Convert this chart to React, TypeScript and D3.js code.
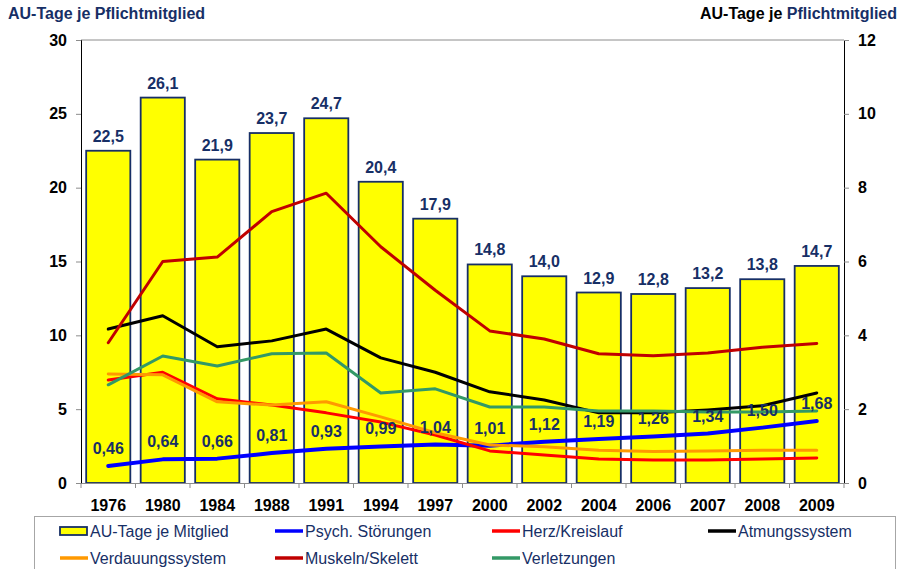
import React, { useEffect, useRef } from "react";
import * as d3 from "d3";

const years = ["1976", "1980", "1984", "1988", "1991", "1994", "1997", "2000", "2002", "2004", "2006", "2007", "2008", "2009"];
const auTage = [22.5, 26.1, 21.9, 23.7, 24.7, 20.4, 17.9, 14.8, 14.0, 12.9, 12.8, 13.2, 13.8, 14.7];
const psych = [0.46, 0.64, 0.66, 0.81, 0.93, 0.99, 1.04, 1.01, 1.12, 1.19, 1.26, 1.34, 1.5, 1.68];
const herz = [2.79, 3.0, 2.28, 2.11, 1.9, 1.65, 1.3, 0.87, 0.76, 0.65, 0.62, 0.62, 0.65, 0.68];
const atmung = [4.17, 4.53, 3.69, 3.85, 4.17, 3.39, 3.0, 2.47, 2.25, 1.9, 1.9, 1.98, 2.09, 2.44];
const verdauung = [2.95, 2.93, 2.2, 2.11, 2.2, 1.79, 1.36, 1.03, 0.98, 0.89, 0.85, 0.87, 0.89, 0.89];
const muskeln = [3.8, 6.0, 6.12, 7.35, 7.85, 6.4, 5.22, 4.12, 3.9, 3.5, 3.45, 3.52, 3.68, 3.78];
const verletzungen = [2.66, 3.44, 3.17, 3.5, 3.52, 2.44, 2.55, 2.06, 2.06, 1.95, 1.95, 1.92, 1.92, 1.95];

const leftTicks = [0, 5, 10, 15, 20, 25, 30];
const rightTicks = [0, 2, 4, 6, 8, 10, 12];

const NAVY = "#172f66";
const FONT = "'Liberation Sans', Arial, sans-serif";

const lineSeries = [
  { name: "Psych. Störungen", values: psych, color: "#0000ff", width: 4 },
  { name: "Herz/Kreislauf", values: herz, color: "#ff0000", width: 3 },
  { name: "Atmungssystem", values: atmung, color: "#000000", width: 3 },
  { name: "Verdauungssystem", values: verdauung, color: "#ff9900", width: 3 },
  { name: "Muskeln/Skelett", values: muskeln, color: "#c00000", width: 3 },
  { name: "Verletzungen", values: verletzungen, color: "#339966", width: 3 },
];

const fmt = (v: number, d: number) => v.toFixed(d).replace(".", ",");

const App = () => {
  const ref = useRef<SVGSVGElement | null>(null);

  useEffect(() => {
    const svg = d3.select(ref.current);
    svg.selectAll("*").remove();

    const left = 81, right = 844, top = 40, bottom = 483;

    const x = d3.scaleBand().domain(years).range([left, right]).paddingInner(0.19).paddingOuter(0.095);
    const xc = (i: number) => (x(years[i]) as number) + x.bandwidth() / 2;
    const yL = d3.scaleLinear().domain([0, 30]).range([bottom, top]);
    const yR = d3.scaleLinear().domain([0, 12]).range([bottom, top]);

    // titles
    svg.append("text").attr("x", 8).attr("y", 19).attr("font-family", FONT)
      .attr("font-size", 16).attr("font-weight", "bold").attr("fill", NAVY)
      .text("AU-Tage je Pflichtmitglied");
    const rt = svg.append("text").attr("x", 897).attr("y", 19).attr("text-anchor", "end")
      .attr("font-family", FONT).attr("font-size", 16).attr("font-weight", "bold");
    rt.append("tspan").attr("fill", "#000").text("AU-Tage je ");
    rt.append("tspan").attr("fill", NAVY).text("Pflichtmitglied");

    // frame top line
    svg.append("line").attr("x1", left).attr("x2", right).attr("y1", top).attr("y2", top)
      .attr("stroke", "#8c8c8c").attr("stroke-width", 1);

    // bars
    svg.selectAll(".bar").data(auTage).enter().append("rect")
      .attr("x", (d, i) => x(years[i]) as number)
      .attr("y", (d) => yL(d))
      .attr("width", x.bandwidth())
      .attr("height", (d) => bottom - yL(d))
      .attr("fill", "#ffff00").attr("stroke", NAVY).attr("stroke-width", 1.8);

    svg.selectAll(".barlabel").data(auTage).enter().append("text")
      .attr("x", (d, i) => xc(i)).attr("y", (d) => yL(d) - 9)
      .attr("text-anchor", "middle").attr("font-family", FONT).attr("font-size", 16)
      .attr("font-weight", "bold").attr("fill", NAVY)
      .text((d) => fmt(d, 1));

    // lines
    const line = d3.line<number>().x((d, i) => xc(i)).y((d) => yR(d));
    lineSeries.forEach((s) => {
      svg.append("path").attr("d", line(s.values) as string).attr("fill", "none")
        .attr("stroke", s.color).attr("stroke-width", s.width)
        .attr("stroke-linejoin", "round").attr("stroke-linecap", "round");
    });

    // psych labels
    svg.selectAll(".plabel").data(psych).enter().append("text")
      .attr("x", (d, i) => xc(i)).attr("y", (d) => yR(d) - 12)
      .attr("text-anchor", "middle").attr("font-family", FONT).attr("font-size", 16)
      .attr("font-weight", "bold").attr("fill", NAVY)
      .text((d) => fmt(d, 2));

    // axes
    const axL = svg.append("g").attr("transform", `translate(${left},0)`)
      .call(d3.axisLeft(yL).tickValues(leftTicks).tickSize(5).tickPadding(9));
    const axR = svg.append("g").attr("transform", `translate(${right},0)`)
      .call(d3.axisRight(yR).tickValues(rightTicks).tickSize(5).tickPadding(9));
    const axB = svg.append("g").attr("transform", `translate(0,${bottom})`)
      .call(d3.axisBottom(x).tickSize(0).tickPadding(0));
    [axL, axR, axB].forEach((g) => {
      g.selectAll("text").attr("font-family", FONT).attr("font-size", 16)
        .attr("font-weight", "bold").attr("fill", "#000");
    });
    axL.select(".domain").attr("stroke", "#000");
    axR.select(".domain").attr("stroke", "#000");
    axL.selectAll(".tick line").attr("stroke", "#8c8c8c");
    axR.selectAll(".tick line").attr("stroke", "#8c8c8c");
    axB.select(".domain").attr("stroke", "#8c8c8c");
    axB.selectAll("text").attr("dy", null).attr("y", 28);

    // category boundary ticks
    const bounds = d3.range(years.length + 1).map((i) => left + (i * (right - left)) / years.length);
    svg.selectAll(".btick").data(bounds).enter().append("line")
      .attr("x1", (d) => d).attr("x2", (d) => d).attr("y1", bottom).attr("y2", bottom + 5)
      .attr("stroke", "#8c8c8c");

    // legend
    svg.append("rect").attr("x", 34.5).attr("y", 516.5).attr("width", 861).attr("height", 70)
      .attr("fill", "#fff").attr("stroke", "#a6a6a6");
    const legendItems = [
      { name: "AU-Tage je Mitglied", bar: true, color: "#ffff00", col: 0, row: 0 },
      { ...lineSeries[0], bar: false, col: 1, row: 0 },
      { ...lineSeries[1], bar: false, col: 2, row: 0 },
      { ...lineSeries[2], bar: false, col: 3, row: 0 },
      { ...lineSeries[3], bar: false, col: 0, row: 1 },
      { ...lineSeries[4], bar: false, col: 1, row: 1 },
      { ...lineSeries[5], bar: false, col: 2, row: 1 },
    ];
    const colX = [60, 275, 492, 708];
    const rowY = [531, 558];
    legendItems.forEach((it) => {
      const lx = colX[it.col], ly = rowY[it.row];
      if (it.bar) {
        svg.append("rect").attr("x", lx).attr("y", ly - 4).attr("width", 27).attr("height", 8)
          .attr("fill", it.color).attr("stroke", NAVY).attr("stroke-width", 1.8);
      } else {
        svg.append("line").attr("x1", lx).attr("x2", lx + 28).attr("y1", ly).attr("y2", ly)
          .attr("stroke", it.color).attr("stroke-width", 3.5);
      }
      svg.append("text").attr("x", lx + 30).attr("y", ly + 6).attr("font-family", FONT)
        .attr("font-size", 16).attr("fill", NAVY).text(it.name);
    });
  }, []);

  return (
    <svg ref={ref} width={903} height={569}
      style={{ position: "absolute", left: 0, top: 0, background: "#fff" }} />
  );
};

export default App;
